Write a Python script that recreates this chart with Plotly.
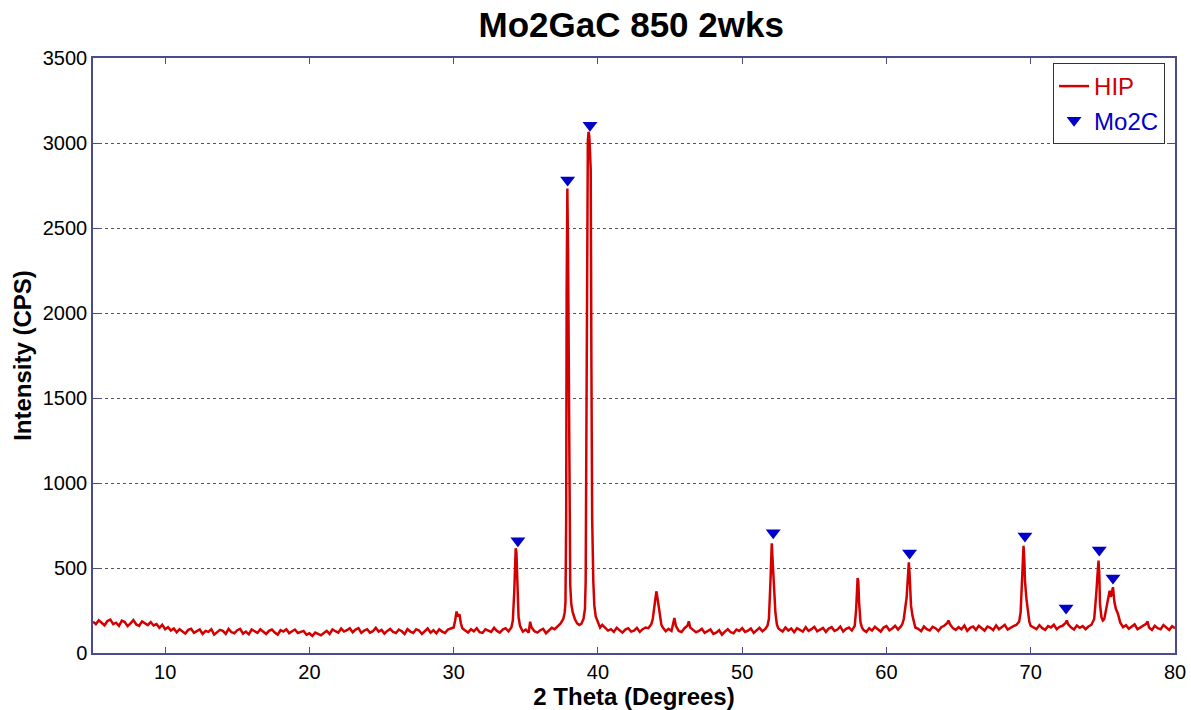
import plotly.graph_objects as go

# ---- HIP scan: 2-theta (degrees) and intensity (CPS) ----
theta_low = [
    5.0, 5.2, 5.4, 5.6, 5.8, 6.0, 6.2, 6.4, 6.6, 6.8,
    7.0, 7.2, 7.4, 7.6, 7.8, 8.0, 8.2, 8.4, 8.6, 8.8,
    9.0, 9.2, 9.4, 9.6, 9.8, 10.0, 10.2, 10.4, 10.6, 10.8,
    11.0, 11.2, 11.4, 11.6, 11.8, 12.0, 12.2, 12.4, 12.6, 12.8,
    13.0, 13.2, 13.4, 13.6, 13.8, 14.0, 14.2, 14.4, 14.6, 14.8,
    15.0, 15.2, 15.4, 15.6, 15.8, 16.0, 16.2, 16.4, 16.6, 16.8,
    17.0, 17.2, 17.4, 17.6, 17.8, 18.0, 18.2, 18.4, 18.6, 18.8,
    19.0, 19.2, 19.4, 19.6, 19.8, 20.0, 20.2, 20.4, 20.6, 20.8,
    21.0, 21.2, 21.4, 21.6, 21.8, 22.0, 22.2, 22.4, 22.6, 22.8,
    23.0, 23.2, 23.4, 23.6, 23.8, 24.0, 24.2, 24.4, 24.6, 24.8,
    25.0, 25.2, 25.4, 25.6, 25.8, 26.0, 26.2, 26.4, 26.6, 26.8,
    27.0, 27.2, 27.4, 27.6, 27.8, 28.0, 28.2, 28.4, 28.6, 28.8,
    29.0, 29.2, 29.4, 29.6, 29.8,
]
cps_low = [
    184, 170, 192, 176, 163, 188, 196, 170, 178, 160,
    190, 182, 158, 174, 194, 168, 160, 186, 176, 164,
    182, 162, 170, 148, 166, 140, 152, 132, 144, 122,
    140, 128, 114, 136, 142, 118, 126, 138, 112, 130,
    124, 140, 108, 120, 136, 130, 112, 142, 122, 116,
    134, 142, 114, 126, 110, 138, 128, 118, 140, 124,
    112, 130, 138, 120, 108, 134, 126, 140, 116, 128,
    138, 118, 126, 130, 108, 116, 100, 120, 112, 104,
    118, 130, 112, 138, 128, 120, 144, 126, 134, 146,
    122, 138, 146, 118, 132, 140, 120, 128, 148, 126,
    136, 114, 130, 142, 124, 118, 138, 128, 112, 140,
    126, 118, 140, 132, 112, 128, 144, 120, 134, 116,
    140, 126, 118, 138, 146,
]

theta_mid = [
    30.0, 30.1, 30.2, 30.3, 30.4, 30.5, 30.6, 30.8, 31.0, 31.2,
    31.4, 31.6, 31.8, 32.0, 32.2, 32.4, 32.6, 32.8, 33.0, 33.2,
    33.4, 33.6, 33.8, 34.0, 34.1, 34.2, 34.25, 34.3, 34.35, 34.4,
    34.45, 34.5, 34.6, 34.7, 34.8, 35.0, 35.2, 35.3, 35.4, 35.6,
    35.8, 36.0, 36.2, 36.4, 36.6, 36.8, 37.0, 37.2, 37.4, 37.6,
    37.7, 37.75, 37.8, 37.83, 37.88, 37.93, 37.97, 38.02, 38.08, 38.15,
    38.25, 38.4, 38.55, 38.7, 38.85, 39.0, 39.1, 39.15, 39.2, 39.25,
    39.3, 39.35, 39.4, 39.45, 39.5, 39.55, 39.6, 39.68, 39.75, 39.85,
    40.0, 40.15, 40.3, 40.5, 40.7, 40.9, 41.1, 41.3, 41.5, 41.7,
    41.9, 42.1, 42.3, 42.5, 42.7, 42.9, 43.1, 43.3, 43.5, 43.7,
    43.8, 43.9, 44.0, 44.05, 44.1, 44.2, 44.3, 44.4, 44.5, 44.7,
    44.9, 45.1, 45.3, 45.4, 45.6, 45.8, 46.0, 46.2, 46.3, 46.4,
    46.6, 46.8,
]
cps_mid = [
    150, 190, 244, 215, 228, 175, 145, 132, 120, 140,
    128, 146, 122, 118, 140, 132, 124, 148, 130, 120,
    138, 146, 128, 150, 190, 360, 560, 616, 590, 500,
    330, 210, 160, 142, 126, 138, 120, 184, 150, 128,
    120, 134, 142, 116, 130, 148, 140, 156, 172, 200,
    240, 300, 800, 2106, 2733, 2353, 1771, 773, 400, 290,
    240, 200, 175, 165, 172, 200, 260, 420, 1500, 2750,
    3010, 3066, 3040, 2950, 2841, 1655, 794, 420, 280, 213,
    180, 150, 166, 146, 132, 140, 124, 148, 136, 120,
    138, 146, 126, 132, 148, 124, 140, 150, 146, 170,
    200, 270, 345, 363, 340, 270, 200, 165, 150, 128,
    142, 130, 206, 160, 130, 124, 146, 160, 186, 150,
    136, 122,
]

theta_high = [
    47.0, 47.2, 47.4, 47.6, 47.8, 48.0, 48.2, 48.4, 48.6, 48.8,
    49.0, 49.2, 49.4, 49.6, 49.8, 50.0, 50.2, 50.4, 50.6, 50.8,
    51.0, 51.2, 51.4, 51.6, 51.75, 51.85, 51.95, 52.0, 52.05, 52.1,
    52.2, 52.3, 52.4, 52.5, 52.6, 52.8, 53.0, 53.2, 53.4, 53.6,
    53.8, 54.0, 54.2, 54.4, 54.6, 54.8, 55.0, 55.2, 55.4, 55.6,
    55.8, 56.0, 56.2, 56.4, 56.6, 56.8, 57.0, 57.2, 57.4, 57.6,
    57.8, 57.9, 58.0, 58.05, 58.1, 58.2, 58.3, 58.4, 58.6, 58.8,
    59.0, 59.2, 59.4, 59.6, 59.8, 60.0, 60.2, 60.4, 60.6, 60.8,
    61.0, 61.1, 61.2, 61.3, 61.4, 61.45, 61.5, 61.55, 61.6, 61.65,
    61.7, 61.8, 61.9, 62.0, 62.2, 62.4, 62.6, 62.8, 63.0, 63.2,
    63.4, 63.6, 63.8, 64.0, 64.2, 64.3, 64.4, 64.6, 64.8,
]
cps_high = [
    130, 142, 118, 126, 138, 112, 120, 134, 108, 126,
    140, 122, 116, 138, 130, 146, 124, 132, 144, 118,
    136, 148, 128, 142, 160, 200, 400, 600, 645, 560,
    380, 240, 170, 145, 138, 126, 150, 132, 144, 122,
    146, 138, 126, 152, 130, 140, 154, 128, 136, 148,
    124, 144, 152, 130, 138, 156, 126, 142, 150, 132,
    160, 260, 441, 420, 300, 180, 150, 136, 124, 146,
    132, 154, 140, 126, 150, 158, 134, 144, 160, 138,
    156, 170, 200, 260, 328, 400, 500, 533, 470, 360,
    280, 220, 180, 150, 142, 128, 156, 140, 132, 154,
    146, 130, 152, 160, 175, 191, 170, 146, 136,
]

theta_end = [
    65.0, 65.2, 65.4, 65.6, 65.8, 66.0, 66.2, 66.4, 66.6, 66.8,
    67.0, 67.2, 67.4, 67.6, 67.8, 68.0, 68.2, 68.4, 68.6, 68.8,
    69.0, 69.2, 69.3, 69.4, 69.45, 69.5, 69.55, 69.6, 69.7, 69.8,
    69.9, 70.0, 70.2, 70.4, 70.6, 70.8, 71.0, 71.2, 71.4, 71.6,
    71.8, 72.0, 72.2, 72.4, 72.5, 72.6, 72.8, 73.0, 73.2, 73.4,
    73.6, 73.8, 74.0, 74.2, 74.4, 74.5, 74.55, 74.62, 74.7, 74.75,
    74.8, 74.9, 75.0, 75.1, 75.2, 75.3, 75.4, 75.47, 75.55, 75.62,
    75.7, 75.8, 75.9, 76.05, 76.2, 76.4, 76.6, 76.8, 77.0, 77.2,
    77.4, 77.6, 77.8, 78.0, 78.1, 78.2, 78.4, 78.6, 78.8, 79.0,
    79.2, 79.4, 79.6, 79.8, 80.0,
]
cps_end = [
    152, 140, 162, 130, 148, 156, 136, 160, 144, 132,
    156, 148, 134, 162, 140, 152, 166, 138, 150, 158,
    165, 185, 240, 420, 560, 631, 560, 426, 320, 240,
    185, 160, 152, 140, 164, 146, 136, 158, 150, 166,
    140, 154, 160, 175, 191, 168, 150, 138, 162, 148,
    158, 140, 156, 165, 200, 290, 357, 450, 543, 470,
    289, 211, 191, 200, 240, 300, 340, 367, 330, 360,
    387, 300, 260, 230, 180, 152, 164, 142, 156, 168,
    140, 150, 162, 172, 185, 150, 136, 160, 146, 140,
    164, 150, 136, 158, 146,
]

# ---- Mo2C reference peak markers ----
mo2c_theta = [34.45, 37.9, 39.45, 52.15, 61.6, 69.6, 72.45, 74.75, 75.7]
mo2c_cps = [660, 2782, 3105, 708, 588, 688, 265, 606, 441]

# ---- axis ticks ----
x_ticks = [10, 20, 30, 40, 50, 60, 70, 80]
y_ticks = [0, 500, 1000, 1500, 2000, 2500, 3000, 3500]

two_theta = theta_low + theta_mid + theta_high + theta_end
intensity = cps_low + cps_mid + cps_high + cps_end

AXIS = "#4a4a8c"
FONT = "Liberation Sans, Arial, sans-serif"

fig = go.Figure()
fig.add_trace(go.Scatter(
    x=two_theta, y=intensity, mode="lines",
    name='<span style="color:#d00000">HIP</span>',
    line=dict(color="#d40000", width=2.5),
))
fig.add_trace(go.Scatter(
    x=mo2c_theta, y=mo2c_cps, mode="markers",
    name='<span style="color:#0000c8">Mo2C</span>',
    marker=dict(symbol="triangle-down", color="#0000c8", size=13),
))

fig.update_layout(
    width=1191, height=710,
    margin=dict(l=93, r=16, t=58, b=57, autoexpand=False),
    paper_bgcolor="white", plot_bgcolor="white",
    font=dict(family=FONT, size=20, color="black"),
    title=dict(text="<b>Mo2GaC 850 2wks</b>", x=0.53, xanchor="center",
               y=0.965, yanchor="middle",
               font=dict(family=FONT, size=35, color="black")),
    showlegend=True,
    legend=dict(x=0.9908, y=0.9916, xanchor="right", yanchor="top",
                bgcolor="white", bordercolor="#333333", borderwidth=1,
                font=dict(family=FONT, size=24), itemwidth=30,
                tracegroupgap=0),
)
fig.update_xaxes(
    range=[5, 80], tickvals=x_ticks, ticks="inside", ticklen=6,
    tickcolor=AXIS, showline=True, linecolor=AXIS, linewidth=1.5,
    mirror="ticks", showgrid=False, zeroline=False, automargin=False,
    tickfont=dict(family=FONT, size=20, color="black"),
    title=dict(text="<b>2 Theta (Degrees)</b>", standoff=0,
               font=dict(family=FONT, size=24, color="black")),
)
fig.update_yaxes(
    range=[0, 3500], tickvals=y_ticks, ticks="inside", ticklen=6,
    tickcolor=AXIS, showline=True, linecolor=AXIS, linewidth=1.5,
    mirror="ticks", showgrid=True, gridcolor="#555555", griddash="dot",
    gridwidth=1, zeroline=False, automargin=False,
    tickfont=dict(family=FONT, size=20, color="black"),
    title=dict(text="<b>Intensity (CPS)</b>", standoff=4,
               font=dict(family=FONT, size=24, color="black")),
)

fig.write_html("out.html")
